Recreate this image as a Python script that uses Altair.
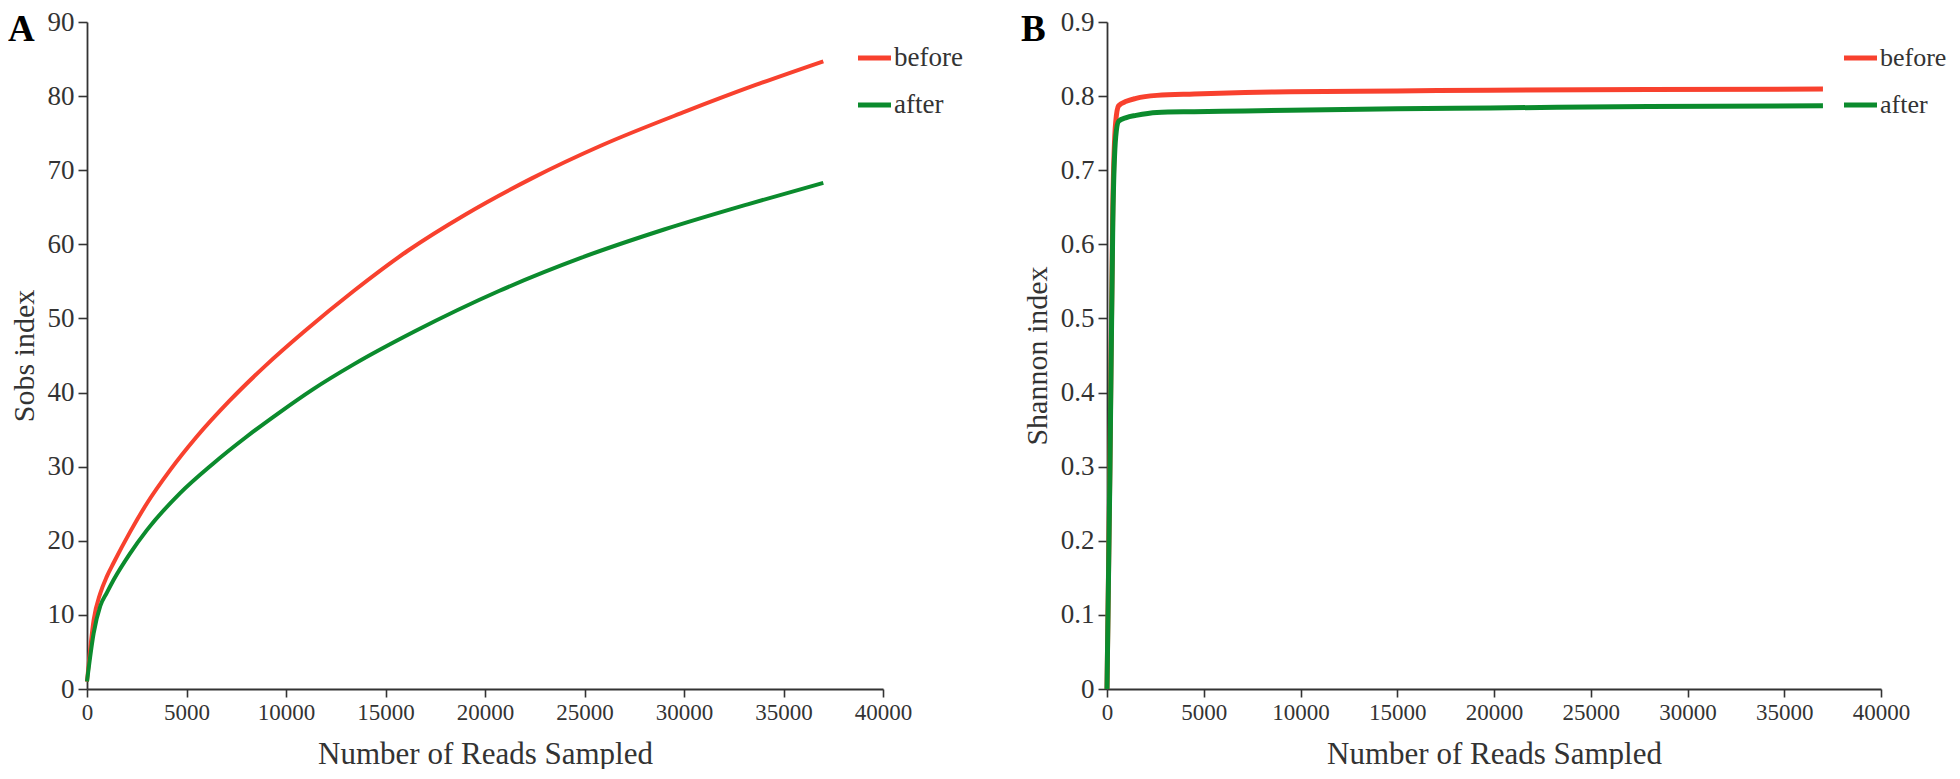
import altair as alt
import pandas as pd

FONT = "Liberation Serif"
series = ["before", "after"]
colors = ["#F8412E", "#0B8B2D"]

x_ticks = [0, 5000, 10000, 15000, 20000, 25000, 30000, 35000, 40000]

# Panel A: Sobs index rarefaction
a_before_reads = [0, 333, 667, 1000, 1333, 2167, 3000, 4167, 5500, 7167, 9000, 10900, 13400, 16100, 19000, 22350, 25900, 30050, 33600, 37000]
a_before_sobs = [1, 9.3, 12.9, 15.2, 17.0, 21.2, 25.0, 29.5, 34.0, 38.9, 43.7, 48.2, 53.7, 59.1, 64.0, 68.9, 73.4, 77.9, 81.5, 84.7]
a_after_reads = [0, 333, 667, 1000, 1333, 2167, 3000, 4667, 6333, 8000, 9667, 11333, 13400, 16500, 20700, 24850, 29000, 33200, 37000]
a_after_sobs = [1, 7.5, 11.2, 13.0, 14.7, 18.3, 21.4, 26.4, 30.4, 34.0, 37.3, 40.4, 43.8, 48.3, 53.7, 58.2, 62.0, 65.4, 68.3]
a_y_ticks = [0, 10, 20, 30, 40, 50, 60, 70, 80, 90]

# Panel B: Shannon index rarefaction
b_before_reads = [0, 150, 300, 450, 600, 1000, 1500, 2580, 4500, 7130, 9460, 15000, 19800, 28000, 37000]
b_before_shannon = [0, 0.30, 0.65, 0.765, 0.787, 0.793, 0.797, 0.801, 0.803, 0.805, 0.806, 0.807, 0.808, 0.809, 0.8095]
b_after_reads = [0, 150, 300, 450, 600, 1000, 1500, 2580, 4500, 7130, 9460, 15000, 19800, 28000, 37000]
b_after_shannon = [0, 0.29, 0.63, 0.745, 0.766, 0.771, 0.774, 0.778, 0.779, 0.780, 0.781, 0.783, 0.784, 0.786, 0.787]
b_y_ticks = [0, 0.1, 0.2, 0.3, 0.4, 0.5, 0.6, 0.7, 0.8, 0.9]


def long_df(before_x, before_y, after_x, after_y):
    rows = []
    for x, y in zip(before_x, before_y):
        rows.append({"reads": x, "value": y, "sample": "before"})
    for x, y in zip(after_x, after_y):
        rows.append({"reads": x, "value": y, "sample": "after"})
    return pd.DataFrame(rows)


def panel(df, ytitle, ydomain, yticks, yfmt, letter, letter_x, leg_x, leg_size, stroke, width, height):
    lines = alt.Chart(df).mark_line(strokeWidth=stroke, interpolate="monotone").encode(
        x=alt.X("reads:Q",
                scale=alt.Scale(domain=[0, 40000], nice=False, zero=True),
                axis=alt.Axis(values=x_ticks, format="d", title="Number of Reads Sampled",
                              labelFontSize=23, titleFontSize=31, labelFlush=False,
                              labelOverlap=False, tickSize=8, labelPadding=4, titlePadding=15)),
        y=alt.Y("value:Q",
                scale=alt.Scale(domain=ydomain, nice=False, zero=True),
                axis=alt.Axis(values=yticks, format=yfmt, title=ytitle,
                              labelFontSize=27, titleFontSize=30, labelFlush=False,
                              labelOverlap=False, tickSize=9, labelPadding=4, titlePadding=8)),
        color=alt.Color("sample:N", scale=alt.Scale(domain=series, range=colors), legend=None),
        order=alt.Order("reads:Q"),
    )
    layers = [lines]
    for i, name in enumerate(series):
        d = pd.DataFrame({"sample": [name]})
        layers.append(
            alt.Chart(d).mark_rule(strokeWidth=5, color=colors[i]).encode(
                x=alt.value(leg_x), x2=alt.value(leg_x + 33), y=alt.value(36 + 47 * i)
            )
        )
        layers.append(
            alt.Chart(d).mark_text(font=FONT, fontSize=leg_size, color="#333333",
                                   align="left", baseline="middle").encode(
                x=alt.value(leg_x + 36), y=alt.value(36 + 47 * i), text="sample:N"
            )
        )
    layers.append(
        alt.Chart(pd.DataFrame({"t": [letter]})).mark_text(
            font=FONT, fontSize=37, fontWeight="bold", color="#000000",
            align="left", baseline="top").encode(
            x=alt.value(letter_x), y=alt.value(-10), text="t:N")
    )
    return alt.layer(*layers).properties(width=width, height=height)


df_a = long_df(a_before_reads, a_before_sobs, a_after_reads, a_after_sobs)
df_b = long_df(b_before_reads, b_before_shannon, b_after_reads, b_after_shannon)

pa = panel(df_a, "Sobs index", [0, 90], a_y_ticks, "d", "A", -79, 771, 27, 4, 796, 667)
pb = panel(df_b, "Shannon index", [0, 0.9], b_y_ticks, "~g", "B", -86, 737, 26, 5, 774, 667)

chart = alt.hconcat(pa, pb, spacing=224, bounds="flush").properties(padding=0).configure_view(
    stroke=None
).configure_axis(
    grid=False,
    domainColor="#333333", domainWidth=1.8,
    tickColor="#333333", tickWidth=1.6,
    labelColor="#333333", titleColor="#333333",
    labelFont=FONT, titleFont=FONT,
    titleFontWeight="normal",
).configure_concat(spacing=224)

chart.save("out.html", embed_options={"renderer": "svg", "actions": False})
